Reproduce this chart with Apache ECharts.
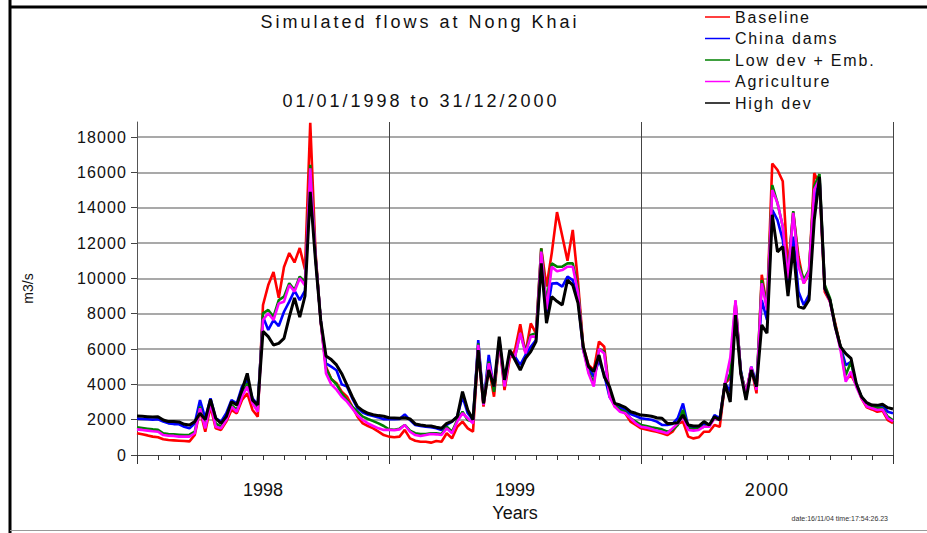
<!DOCTYPE html>
<html>
<head>
<meta charset="utf-8">
<script src="https://cdn.jsdelivr.net/npm/echarts@6/dist/echarts.min.js"></script>
<style>
html,body{margin:0;padding:0;background:#fff;}
#main{width:927px;height:533px;}
</style>
</head>
<body>
<div id="main"></div>
<script>
// Sampling: one value every quarter month, starting 01/01/1998 (x in months)
const STEP_MONTHS = 0.25;
const yearLabels = { 6: '1998', 18: '1999', 30: '2000' };
const yearLabelPositions = [6, 18, 30];
const yTicks = [0, 2000, 4000, 6000, 8000, 10000, 12000, 14000, 16000, 18000];
const seriesNames = ['Baseline', 'China dams', 'Low dev + Emb.', 'Agriculture', 'High dev'];

const baseline = [
  1230, 1170, 1110, 1040, 1000, 890, 850, 830, 810, 790, 770, 1130, 2550, 1320, 2740, 1510, 1420, 1890, 2550, 2360, 3110, 3490, 2550, 2170,
  8490, 9620, 10360, 8900, 10640, 11430, 10900, 11720, 10500, 18800, 11500, 7500, 5000, 4300, 4060, 3590, 3300, 2740, 2170, 1790, 1640, 1510, 1320, 1130,
  1040, 1000, 1040, 1420, 940, 810, 750, 750, 700, 790, 750, 1230, 940, 1600, 1890, 1510, 1320, 5940, 2740, 5000, 3300, 6420, 3680, 5470,
  5940, 7400, 5760, 7450, 6890, 11700, 9530, 11430, 13750, 12400, 11000, 12740, 9800, 6130, 5100, 4810, 6420, 6130, 3490, 2740, 2550, 2360, 1890, 1700,
  1510, 1450, 1380, 1320, 1230, 1130, 1320, 1760, 1890, 1040, 940, 1000, 1320, 1320, 1700, 1600, 4060, 4340, 8680, 4620, 3490, 4910, 3490, 10200,
  8390, 16500, 16130, 15500, 10500, 13750, 11230, 9720, 10280, 15960, 15300, 9240, 8680, 7450, 6130, 4250, 4530, 3970, 3210, 2700, 2580, 2450, 2510, 1980, 1810
];
const chinaDams = [
  2060, 2040, 2020, 2000, 2020, 1890, 1790, 1750, 1740, 1600, 1510, 1790, 3110, 2080, 3210, 2080, 1890, 2360, 3110, 2920, 3870, 4250, 3210, 2830,
  7830, 7080, 7640, 7300, 8110, 8680, 9300, 8770, 9300, 15660, 11200, 7600, 5190, 5000, 4800, 4000, 3870, 3210, 2640, 2400, 2280, 2210, 2130, 2020,
  2040, 2020, 2040, 2300, 1980, 1700, 1640, 1600, 1570, 1510, 1420, 1700, 1890, 2170, 3300, 2360, 1980, 6510, 2920, 5660, 3680, 6510, 4150, 5750,
  5570, 5100, 5660, 6130, 6510, 11040, 7830, 9700, 9730, 9530, 10100, 9900, 8800, 5940, 4910, 4430, 5380, 4530, 3300, 2830, 2700, 2550, 2320, 2210,
  2080, 2040, 2000, 1890, 1700, 1700, 1760, 2080, 2920, 1600, 1510, 1510, 1790, 1600, 2260, 2080, 4060, 3600, 8400, 4810, 3300, 5000, 4060, 8770,
  7640, 13870, 13300, 12170, 9800, 12360, 9240, 8490, 9060, 14260, 15700, 9430, 8770, 7260, 6130, 5090, 5280, 3970, 3300, 2870, 2740, 2680, 2790, 2450, 2360
];
const lowDevEmb = [
  1570, 1530, 1490, 1450, 1420, 1230, 1190, 1170, 1150, 1130, 1150, 1320, 2740, 1600, 2920, 1790, 1600, 2080, 2830, 2550, 3400, 4060, 3020, 2550,
  8020, 8210, 7830, 8770, 8960, 9720, 9340, 10100, 9800, 16420, 11300, 7600, 4910, 4300, 4000, 3490, 3110, 2740, 2450, 2170, 2040, 1920, 1790, 1640,
  1450, 1430, 1490, 1700, 1380, 1230, 1190, 1190, 1230, 1230, 1190, 1600, 1320, 1980, 2450, 1980, 1890, 6320, 2870, 5280, 3580, 6470, 3960, 5750,
  5570, 6900, 5850, 6800, 6890, 11700, 8580, 10850, 10660, 10660, 10850, 10850, 9400, 6040, 4720, 4060, 6000, 5850, 3400, 2830, 2550, 2450, 2080, 1890,
  1700, 1640, 1570, 1510, 1450, 1320, 1420, 1700, 2550, 1510, 1470, 1510, 1600, 1700, 2080, 1980, 4060, 4600, 8680, 4720, 3490, 4910, 3870, 9900,
  8400, 15280, 14260, 12930, 10200, 13800, 10850, 9910, 10470, 15220, 15900, 9620, 8870, 7360, 6130, 4530, 5280, 3970, 3300, 2830, 2740, 2680, 2640, 2170, 1960
];
const agriculture = [
  1450, 1420, 1380, 1340, 1320, 1130, 1090, 1080, 1040, 1040, 1040, 1230, 2640, 1510, 2920, 1600, 1510, 1980, 2740, 2450, 3300, 3870, 2920, 2450,
  7640, 8020, 7640, 8580, 8680, 9620, 9250, 10000, 9600, 16230, 11200, 7600, 4620, 4000, 3700, 3300, 3020, 2640, 2260, 1980, 1790, 1640, 1510, 1420,
  1420, 1400, 1450, 1700, 1320, 1130, 1080, 1130, 1190, 1170, 1130, 1510, 1230, 1890, 2360, 2080, 1790, 6230, 2830, 5190, 3870, 6420, 3870, 5660,
  5570, 6900, 5750, 6700, 6700, 11510, 8230, 10660, 10400, 10470, 10660, 10660, 9200, 5940, 4620, 3870, 6000, 5750, 3300, 2740, 2450, 2360, 2080, 1790,
  1600, 1550, 1470, 1380, 1320, 1230, 1510, 1790, 2170, 1420, 1380, 1420, 1600, 1600, 2080, 1980, 4060, 5500, 8770, 4620, 3490, 5000, 3680, 9720,
  8200, 15000, 14260, 12930, 10000, 13700, 10660, 9720, 10380, 15030, 15600, 9430, 8680, 7260, 5940, 4150, 4720, 3870, 3210, 2750, 2640, 2550, 2580, 2080, 1900
];
const highDev = [
  2210, 2190, 2170, 2150, 2170, 1980, 1890, 1890, 1870, 1740, 1700, 1890, 2360, 2000, 3150, 2080, 1790, 2170, 3020, 2830, 3680, 4620, 3110, 2830,
  7000, 6700, 6230, 6320, 6600, 7800, 8900, 7800, 9000, 14900, 11000, 7600, 5600, 5400, 5100, 4600, 3960, 3300, 2740, 2510, 2360, 2280, 2230, 2190,
  2110, 2100, 2080, 2110, 2040, 1760, 1700, 1660, 1640, 1570, 1510, 1790, 1900, 2170, 3590, 2550, 2000, 5940, 2920, 4810, 3870, 6700, 4250, 5940,
  5380, 4810, 5470, 5850, 6420, 10850, 7460, 8960, 8700, 8490, 9900, 9620, 8600, 6130, 5000, 4720, 5660, 4430, 3870, 2920, 2830, 2700, 2450, 2360,
  2260, 2230, 2190, 2110, 2080, 1790, 1790, 1830, 2260, 1700, 1640, 1640, 1890, 1700, 2170, 1980, 4060, 3000, 7920, 4620, 3110, 4810, 3870, 7360,
  6890, 13600, 11500, 11800, 9000, 11800, 8400, 8300, 8770, 13300, 15750, 9430, 8770, 7260, 6130, 5740, 5470, 4060, 3300, 2960, 2830, 2810, 2870, 2680, 2600
];

const seriesValues = [baseline, chinaDams, lowDevEmb, agriculture, highDev];
const seriesColors = ['#ff0000', '#0000ff', '#008000', '#ff00ff', '#000000'];
const seriesWidths = [2.6, 2.6, 2.6, 2.6, 3];

const FONT = "'Liberation Sans', Arial, Helvetica, sans-serif";
const toXY = arr => arr.map((v, i) => [i * STEP_MONTHS, v]);

const dom = document.getElementById('main');
const chart = echarts.init(dom, null, { renderer: 'svg' });

const option = {
  animation: false,
  backgroundColor: '#ffffff',
  textStyle: { fontFamily: FONT },
  title: [
    { text: 'Simulated flows at Nong Khai', left: 420, top: 13, textAlign: 'center', padding: 0,
      textStyle: { fontSize: 18, fontWeight: 'normal', color: '#111', fontFamily: FONT } },
    { text: '01/01/1998 to 31/12/2000', left: 421, top: 92, textAlign: 'center', padding: 0,
      textStyle: { fontSize: 18, fontWeight: 'normal', color: '#111', fontFamily: FONT } },
    { text: 'date:16/11/04 time:17:54:26.23', right: 39, top: 515, padding: 0,
      textStyle: { fontSize: 7, fontWeight: 'normal', color: '#333', fontFamily: FONT } }
  ],
  legend: {
    orient: 'vertical', left: 705, top: 9, padding: 0,
    itemWidth: 25, itemHeight: 1.5, itemGap: 5.5,
    icon: 'rect',
    data: seriesNames,
    textStyle: { fontSize: 16, color: '#111', lineHeight: 16, fontFamily: FONT }
  },
  grid: { left: 137, right: 34, top: 122, bottom: 78, containLabel: false, outerBoundsMode: 'none' },
  xAxis: {
    type: 'value', min: 0, max: 36, interval: 12, position: 'bottom',
    axisLine: { show: true, onZero: false, lineStyle: { color: '#444', width: 1 } },
    axisTick: { show: true, length: 9, lineStyle: { color: '#333', width: 1 } },
    minorTick: { show: true, splitNumber: 12, length: 5, lineStyle: { color: '#333', width: 1 } },
    axisLabel: { show: true, margin: 26, fontSize: 18, color: '#111', fontFamily: FONT,
      customValues: yearLabelPositions, formatter: v => yearLabels[v] || '' },
    splitLine: { show: true, lineStyle: { color: '#444', width: 1 } },
    minorSplitLine: { show: false },
    name: 'Years', nameLocation: 'middle', nameGap: 46,
    nameTextStyle: { fontSize: 18, color: '#111', fontFamily: FONT }
  },
  yAxis: {
    type: 'value', min: 0, max: 18850, interval: 2000,
    axisLine: { show: true, lineStyle: { color: '#555', width: 1 } },
    axisTick: { show: true, length: 6, lineStyle: { color: '#444' }, customValues: yTicks },
    axisLabel: { show: true, margin: 10, fontSize: 16, color: '#111', customValues: yTicks, fontFamily: FONT,
      formatter: v => String(v) },
    splitLine: { show: true, showMinLine: false, lineStyle: { color: '#8c8c8c', width: 1.5 } },
    name: 'm3/s', nameLocation: 'middle', nameGap: 102, nameRotate: 90,
    nameTextStyle: { fontSize: 14, color: '#111', fontFamily: FONT }
  },
  series: seriesNames.map((name, k) => ({
    name: name,
    type: 'line',
    data: toXY(seriesValues[k]),
    symbol: 'none',
    showSymbol: false,
    smooth: false,
    lineStyle: { color: seriesColors[k], width: seriesWidths[k] },
    itemStyle: { color: seriesColors[k] },
    emphasis: { disabled: true },
    z: 2 + k
  })),
  graphic: [
    { type: 'line', shape: { x1: 10, y1: 0, x2: 10, y2: 533 }, style: { stroke: '#000', lineWidth: 3 }, silent: true },
    { type: 'line', shape: { x1: 10, y1: 7, x2: 927, y2: 7 }, style: { stroke: '#000', lineWidth: 3 }, silent: true },
    { type: 'line', shape: { x1: 10, y1: 530.5, x2: 927, y2: 530.5 }, style: { stroke: '#999', lineWidth: 1 }, silent: true }
  ]
};

chart.setOption(option);

const titleTexts = ['Simulated flows at Nong Khai', '01/01/1998 to 31/12/2000'];
const tickTexts = yTicks.map(String);
function applySpacing() {
  dom.querySelectorAll('text').forEach(t => {
    const s = (t.textContent || '').trim();
    if (titleTexts.includes(s)) t.setAttribute('letter-spacing', '3');
    else if (seriesNames.includes(s)) t.setAttribute('letter-spacing', '1.8');
    else if (tickTexts.includes(s)) t.setAttribute('letter-spacing', '1.1');
  });
}
applySpacing();
chart.on('finished', applySpacing);
setTimeout(applySpacing, 50);
setTimeout(applySpacing, 300);
</script>
</body>
</html>
